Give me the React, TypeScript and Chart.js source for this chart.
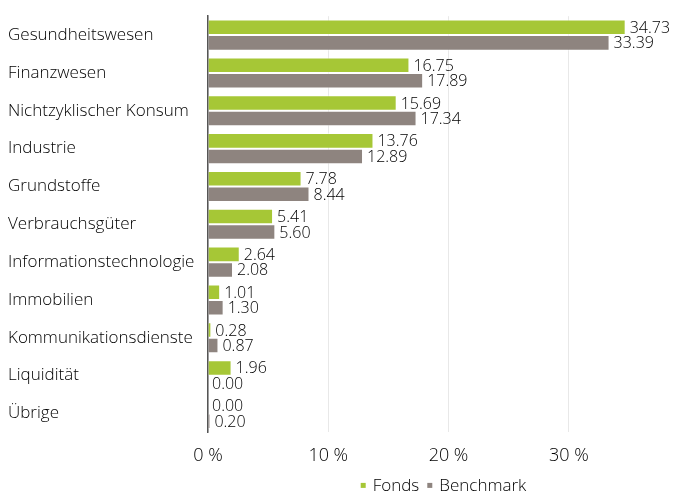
import React, { useEffect, useRef } from "react";
import { Chart, registerables } from "chart.js";

Chart.register(...registerables);

const categories = [
  "Gesundheitswesen",
  "Finanzwesen",
  "Nichtzyklischer Konsum",
  "Industrie",
  "Grundstoffe",
  "Verbrauchsgüter",
  "Informationstechnologie",
  "Immobilien",
  "Kommunikationsdienste",
  "Liquidität",
  "Übrige",
];
const fondsValues = [34.73, 16.75, 15.69, 13.76, 7.78, 5.41, 2.64, 1.01, 0.28, 1.96, 0.0];
const benchmarkValues = [33.39, 17.89, 17.34, 12.89, 8.44, 5.6, 2.08, 1.3, 0.87, 0.0, 0.2];
const xTicks = [0, 10, 20, 30];

const FONT = "'Open Sans', 'Noto Sans', sans-serif";

const valueLabels = {
  id: "valueLabels",
  afterDatasetsDraw(chart: any) {
    const ctx = chart.ctx;
    ctx.save();
    ctx.font = `300 16px ${FONT}`;
    ctx.fillStyle = "#000000";
    ctx.textAlign = "left";
    ctx.textBaseline = "middle";
    chart.data.datasets.forEach((ds: any, di: number) => {
      const meta = chart.getDatasetMeta(di);
      meta.data.forEach((el: any, i: number) => {
        const v = ds.data[i] as number;
        ctx.fillText(v.toFixed(2), el.x + 4, el.y + 1);
      });
    });
    ctx.restore();
  },
};

const bottomLegend = {
  id: "bottomLegend",
  afterDraw(chart: any) {
    const ctx = chart.ctx;
    const area = chart.chartArea;
    ctx.save();
    ctx.font = `300 17px ${FONT}`;
    ctx.textBaseline = "middle";
    ctx.textAlign = "left";
    const box = 5;
    const gapBox = 7;
    const gapItem = 8;
    const items = chart.data.datasets.map((ds: any) => ({
      text: ds.label,
      color: ds.backgroundColor,
      w: ctx.measureText(ds.label).width,
    }));
    const total = items.reduce((s: number, it: any) => s + box + gapBox + it.w, 0) + gapItem * (items.length - 1);
    let x = (area.left + area.right) / 2 + 7 - total / 2;
    const y = area.bottom + 54;
    items.forEach((it: any) => {
      ctx.fillStyle = it.color;
      ctx.fillRect(x, y - box / 2 - 1, box, box);
      x += box + gapBox;
      ctx.fillStyle = "#000000";
      ctx.fillText(it.text, x, y);
      x += it.w + gapItem;
    });
    ctx.restore();
  },
};

export default function App() {
  const ref = useRef<HTMLCanvasElement | null>(null);
  useEffect(() => {
    if (!ref.current) return;
    const chart = new Chart(ref.current, {
      type: "bar",
      data: {
        labels: categories,
        datasets: [
          {
            label: "Fonds",
            data: fondsValues,
            backgroundColor: "#a6c736",
            borderColor: "rgba(255,255,255,0.5)",
            borderWidth: 1,
            barPercentage: 1,
            categoryPercentage: 0.82,
          },
          {
            label: "Benchmark",
            data: benchmarkValues,
            backgroundColor: "#8e847f",
            borderColor: "rgba(255,255,255,0.5)",
            borderWidth: 1,
            barPercentage: 1,
            categoryPercentage: 0.82,
          },
        ],
      },
      options: {
        indexAxis: "y",
        animation: false,
        responsive: true,
        maintainAspectRatio: false,
        layout: { padding: { left: 8, right: 10, top: 8, bottom: 19 } },
        scales: {
          x: {
            min: 0,
            max: 38,
            afterBuildTicks: (scale: any) => {
              scale.ticks = xTicks.map((v) => ({ value: v }));
            },
            ticks: {
              callback: (v: any) => `${v} %`,
              font: { family: FONT, size: 18, weight: "300" },
              color: "#000000",
              padding: 13,
              maxRotation: 0,
            },
            grid: { color: "#e8e8e8", drawTicks: false, lineWidth: 1 },
            border: { display: false },
          },
          y: {
            afterFit: (scale: any) => {
              scale.width = 200;
            },
            ticks: {
              crossAlign: "far",
              font: { family: FONT, size: 17, weight: "300" },
              color: "#000000",
              padding: 6,
            },
            grid: { display: false, drawTicks: false },
            border: { display: true, color: "#555555", width: 1.5 },
          },
        },
        plugins: {
          legend: { display: false },
          tooltip: { enabled: false },
        },
      },
      plugins: [valueLabels, bottomLegend],
    });
    return () => chart.destroy();
  }, []);
  return (
    <div style={{ position: "fixed", left: 0, top: 0, width: 675, height: 499, background: "#fff" }}>
      <canvas ref={ref} />
    </div>
  );
}
